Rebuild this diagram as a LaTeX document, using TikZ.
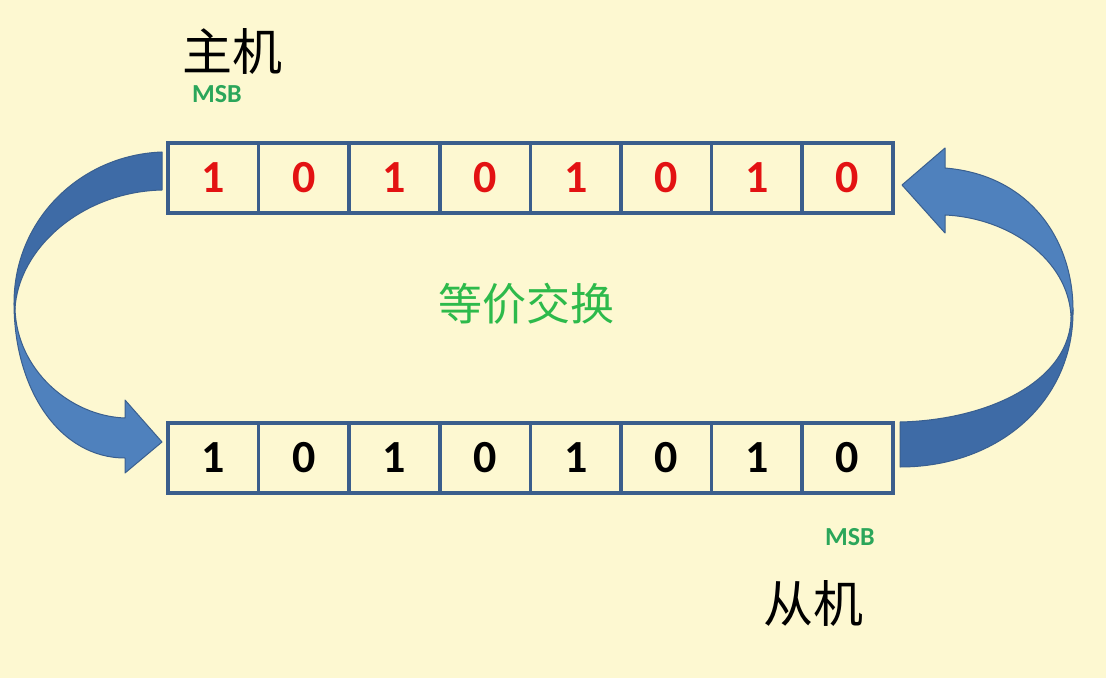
\documentclass[tikz,border=0pt]{standalone}
\usepackage{fontspec}
\setmainfont{Carlito}
\newfontfamily\cjk{Noto Sans CJK SC}
\usepackage{tikz}
\usetikzlibrary{positioning}

\definecolor{bgyellow}{HTML}{FDF8D1}
\definecolor{boxblue}{HTML}{3B5E8C}
\definecolor{bitred}{HTML}{E31212}
\definecolor{msbgreen}{HTML}{2BA65A}
\definecolor{swapgreen}{HTML}{2DBA4B}
\definecolor{lightband}{HTML}{4F81BD}
\definecolor{darkband}{HTML}{3E6BA6}
\definecolor{bandedge}{HTML}{3A5F8F}

\begin{document}
\begin{tikzpicture}[x=0.5pt,y=-0.5pt,node distance=0pt,
		bit/.style={rectangle,draw=boxblue,line width=1.8pt,minimum width=45.3pt,minimum height=35pt,
			inner sep=0pt,outer sep=0pt,font=\fontsize{23}{23}\selectfont\bfseries},
		hostbit/.style={bit,text=bitred},
		slavebit/.style={bit,text=black},
		msb/.style={text=msbgreen,font=\fontsize{13}{13}\selectfont\bfseries},
		who/.style={font=\cjk\fontsize{25}{25}\selectfont},
		band/.style={draw=bandedge,line width=0.5pt,line join=round}]

	\fill[bgyellow] (0,0) rectangle (1106,678);
	\useasboundingbox (0,0) rectangle (1106,678);

	% host register, MSB first
	\node[hostbit] (h1) at (213.3,178) {1};
	\node[hostbit] (h2) [right=of h1] {0};
	\node[hostbit] (h3) [right=of h2] {1};
	\node[hostbit] (h4) [right=of h3] {0};
	\node[hostbit] (h5) [right=of h4] {1};
	\node[hostbit] (h6) [right=of h5] {0};
	\node[hostbit] (h7) [right=of h6] {1};
	\node[hostbit] (h8) [right=of h7] {0};

	% slave register
	\node[slavebit] (s1) [below=105pt of h1] {1};
	\node[slavebit] (s2) [right=of s1] {0};
	\node[slavebit] (s3) [right=of s2] {1};
	\node[slavebit] (s4) [right=of s3] {0};
	\node[slavebit] (s5) [right=of s4] {1};
	\node[slavebit] (s6) [right=of s5] {0};
	\node[slavebit] (s7) [right=of s6] {1};
	\node[slavebit] (s8) [right=of s7] {0};

	% left arrow: host out to slave in
	\path[band,fill=darkband] (162,152) .. controls (80,155) and (14,220) .. (14,303)
		-- (15,309) .. controls (18,250) and (80,192) .. (162,190) -- cycle;
	\path[band,fill=lightband] (14,303) .. controls (14,390) and (60,458) .. (125,458)
		-- (125,473) -- (162,442) -- (125,400) -- (125,418)
		.. controls (70,416) and (17,370) .. (15,309) -- cycle;

	% right arrow: slave out to host in
	\path[band,fill=lightband] (1073,310) .. controls (1073,240) and (1030,175) .. (945,168)
		-- (945,148) -- (902,185) -- (945,233) -- (945,215)
		.. controls (1010,218) and (1068,260) .. (1071,316) -- cycle;
	\path[band,fill=darkband] (900,422) .. controls (990,420) and (1071,380) .. (1071,316)
		-- (1073,310) .. controls (1074,400) and (1000,467) .. (900,467) -- cycle;

	\node[who] (host) at (232,52) {主机};
	\node[msb] (hostmsb) at (217,94) {MSB};
	\node[text=swapgreen,font=\cjk\fontsize{22}{22}\selectfont] (swap) at (526,304) {等价交换};
	\node[msb] (slavemsb) at (850,537) {MSB};
	\node[who] (slave) at (813,603) {从机};
\end{tikzpicture}
\end{document}
